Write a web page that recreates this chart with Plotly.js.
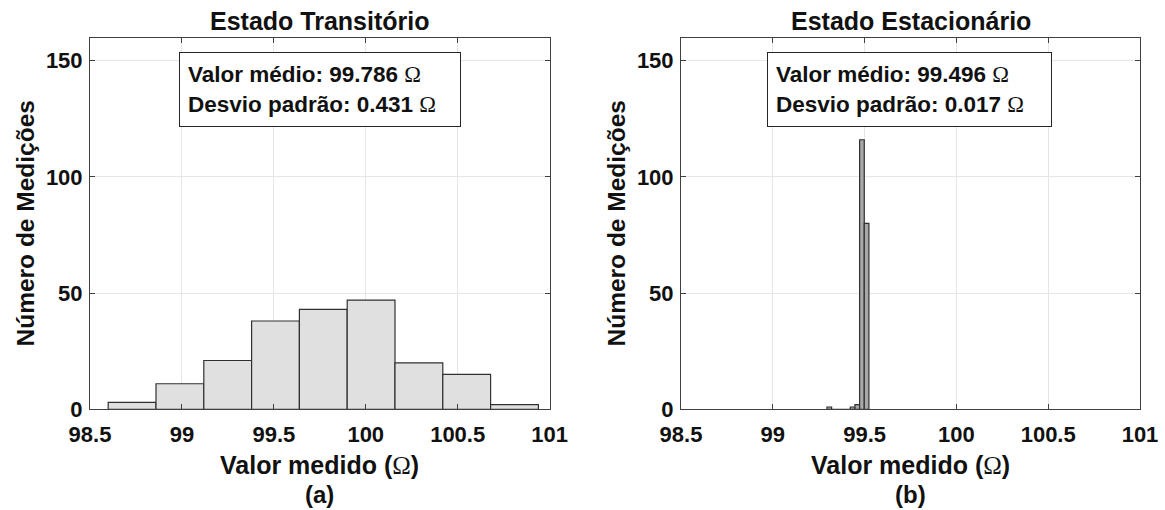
<!DOCTYPE html>
<html>
<head>
<meta charset="utf-8">
<script src="https://cdn.plot.ly/plotly-3.0.1.min.js"></script>
<style>html,body{margin:0;padding:0;background:#fff;}#chart{width:1165px;height:510px;}</style>
</head>
<body>
<div id="chart"></div>
<script>
// ---- Data ----
const titleA = "Estado Transitório";
const titleB = "Estado Estacionário";
const binEdgesA = [98.599, 98.859, 99.119, 99.379, 99.639, 99.899, 100.159, 100.419, 100.679, 100.939];
const countsA   = [3, 11, 21, 38, 43, 47, 20, 15, 2];
const binEdgesB = [99.2950, 99.3204, 99.3458, 99.3712, 99.3966, 99.4220, 99.4474, 99.4728, 99.4982, 99.5236];
const countsB   = [1, 0, 0, 0, 0, 1, 2, 116, 80];
const xTickVals = [98.5, 99, 99.5, 100, 100.5, 101];
const xTickText = ["98.5", "99", "99.5", "100", "100.5", "101"];
const yTickVals = [0, 50, 100, 150];
const statsA = {mean: "99.786", std: "0.431"};
const statsB = {mean: "99.496", std: "0.017"};

const FONT = "Liberation Sans, Arial, sans-serif";
const OMEGA = '<span style="font-family:Liberation Serif, Times New Roman, serif;font-weight:normal">Ω</span>';

function centers(edges){ const c=[]; for(let i=0;i<edges.length-1;i++) c.push((edges[i]+edges[i+1])/2); return c; }
function widths(edges){ const w=[]; for(let i=0;i<edges.length-1;i++) w.push(edges[i+1]-edges[i]); return w; }

const traces = [
  {type:'bar', x:centers(binEdgesA), y:countsA, width:widths(binEdgesA), xaxis:'x', yaxis:'y',
   marker:{color:'#e0e0e0', line:{color:'#303030', width:1.2}}, hoverinfo:'x+y'},
  {type:'bar', x:centers(binEdgesB), y:countsB, width:widths(binEdgesB), xaxis:'x2', yaxis:'y2',
   marker:{color:'#a8a8a8', line:{color:'#303030', width:1.2}}, hoverinfo:'x+y'}
];

const yDom = [100.7/510, 472.5/510];
function xax(dom, anchor){
  return {domain:dom, anchor:anchor, range:[98.5, 101], tickvals:xTickVals, ticktext:xTickText,
    ticks:'inside', ticklen:5, tickcolor:'#404040', showline:true, linecolor:'#404040', linewidth:1,
    mirror:'ticks', showgrid:true, gridcolor:'#e6e6e6', gridwidth:1, zeroline:false,
    tickfont:{family:FONT, size:22, color:'#111', weight:'bold'}, ticklabelstandoff:5, fixedrange:true};
}
function yax(anchor){
  return {domain:yDom, anchor:anchor, range:[0, 160], tickvals:yTickVals,
    ticks:'inside', ticklen:5, tickcolor:'#404040', showline:true, linecolor:'#404040', linewidth:1,
    mirror:'ticks', showgrid:true, gridcolor:'#e6e6e6', gridwidth:1, zeroline:false,
    tickfont:{family:FONT, size:22, color:'#111', weight:'bold'}, ticklabelstandoff:2, fixedrange:true};
}

const xA = [90/1165, 549.6/1165], xB = [681/1165, 1140/1165];
const cA = (xA[0]+xA[1])/2, cB = (xB[0]+xB[1])/2;

function ann(text, x, y, size, extra){
  return Object.assign({text:text, x:x, y:y, xref:'paper', yref:'paper', showarrow:false,
    xanchor:'center', yanchor:'middle', font:{family:FONT, size:size, color:'#111', weight:'bold'}}, extra||{});
}
function statBox(s, x0, w){
  return ann('Valor médio: '+s.mean+' '+OMEGA+'<br>Desvio padrão: '+s.std+' '+OMEGA, x0, 1-89.5/510, 22.5,
    {xanchor:'left', align:'left', width:w, height:57, bordercolor:'#262626', borderwidth:1, borderpad:8, bgcolor:'#ffffff'});
}

const layout = {
  width:1165, height:510, margin:{l:0, r:0, t:0, b:0}, paper_bgcolor:'#fff', plot_bgcolor:'#fff',
  showlegend:false, bargap:0,
  xaxis: xax(xA, 'y'), yaxis: yax('x'),
  xaxis2: xax(xB, 'y2'), yaxis2: yax('x2'),
  annotations:[
    ann(titleA, cA, 1-21/510, 25),
    ann(titleB, cB, 1-21/510, 25),
    ann('Valor medido ('+OMEGA+')', cA, 1-465/510, 25),
    ann('Valor medido ('+OMEGA+')', cB, 1-465/510, 25),
    ann('(a)', cA, 1-494/510, 24),
    ann('(b)', cB, 1-494/510, 24),
    ann('Número de Medições', 25/1165, 1-223.5/510, 24.5, {textangle:-90}),
    ann('Número de Medições', 616/1165, 1-223.5/510, 24.5, {textangle:-90}),
    statBox(statsA, 179/1165, 264),
    statBox(statsB, 767/1165, 267)
  ]
};

Plotly.newPlot('chart', traces, layout, {displayModeBar:false, staticPlot:true});
</script>
</body>
</html>
